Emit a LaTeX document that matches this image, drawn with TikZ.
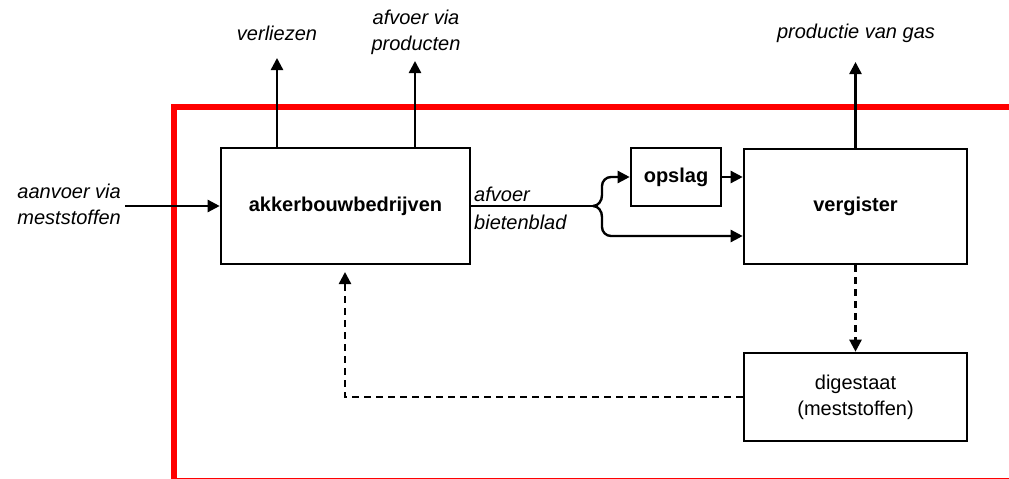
\documentclass[tikz,border=0pt]{standalone}
\usepackage{fontspec}
\setmainfont{Liberation Sans}
\usetikzlibrary{arrows.meta}
\definecolor{framered}{RGB}{255,0,0}
\begin{document}
\begin{tikzpicture}[x=1pt,y=-1pt,
  box/.style={draw,line width=2.6pt,inner sep=0pt},
  boxtxt/.style={font=\fontsize{20}{24}\selectfont\bfseries},
  lbl/.style={font=\fontsize{20}{26}\selectfont\itshape,inner sep=0pt,align=center},
  flow/.style={line width=2.4pt,-{Triangle[length=12pt,width=12pt]}},
  dflow/.style={line width=2.4pt,dash pattern=on 7pt off 5pt,-{Triangle[length=12pt,width=12pt]}}]
\useasboundingbox (0,0) rectangle (1009,479);
\clip (0,0) rectangle (1009,479);
% red system frame
\draw[framered,line width=6pt] (1030,107) -- (174,107) -- (174,490);
\draw[framered,line width=1.2pt] (171,478.3) -- (1030,478.3);
% boxes
\node[box,boxtxt,minimum width=249pt,minimum height=116pt] (akker) at (345.5,206) {akkerbouwbedrijven};
\node[box,boxtxt,minimum width=90pt,minimum height=58pt] (opslag) at (676,177) {opslag};
\node[box,boxtxt,minimum width=223pt,minimum height=115pt] (verg) at (855.5,206.5) {vergister};
\node[box,font=\fontsize{20}{26}\selectfont,align=center,minimum width=223pt,minimum height=88pt] (dig) at (855.5,397) {digestaat\\(meststoffen)};
% labels
\node[lbl] (verl) at (277,33) {verliezen};
\node[lbl] (afvp) at (416,32) {afvoer via\\producten};
\node[lbl] (prod) at (856,33) {productie van gas};
\node[lbl,align=right,anchor=east] (aanv) at (121,204) {aanvoer via\\meststoffen};
\node[lbl,anchor=west] (afv) at (474,194) {afvoer};
\node[lbl,anchor=west] (biet) at (474,222) {bietenblad};
% coordinates
\coordinate (t1) at (277,58);
\coordinate (t2) at (415,61);
\coordinate (t3) at (855.5,62);
\coordinate (inA) at (125,206);
\coordinate (split) at (593,206);
\coordinate (ret) at (345,397);
\coordinate (retT) at (345,272);
% connectors
\draw[flow] (akker.north -| t1) -- (t1);
\draw[flow] (akker.north -| t2) -- (t2);
\draw[flow] (verg.north) -- (t3);
\draw[flow] (inA) -- (akker.west);
\draw[line width=2pt] (akker.east) -- (split);
\draw[flow] (split) to[out=0,in=-90] (602,195) -- (602,186) to[out=90,in=180] (611,177) -- (opslag.west);
\draw[flow] (split) to[out=0,in=90] (602,217) -- (602,227) to[out=-90,in=180] (611,236) -- (verg.west |- 0,236);
\draw[flow] (opslag.east) -- (verg.west |- opslag.east);
\draw[dflow] (verg.south) -- (dig.north);
\draw[dflow] (dig.west) -- (ret) -- (retT);
\end{tikzpicture}
\end{document}
